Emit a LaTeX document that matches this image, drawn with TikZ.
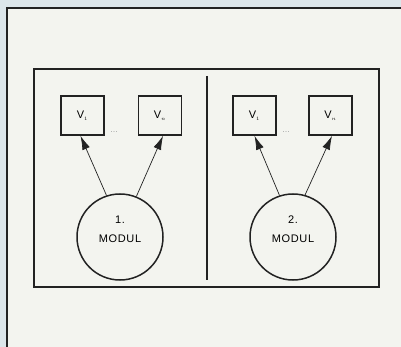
\documentclass[tikz,border=0pt]{standalone}
\usepackage{fontspec}
\setmainfont{Liberation Sans}
\usetikzlibrary{arrows.meta}
\definecolor{scanblue}{HTML}{DCE6EA}
\definecolor{paper}{HTML}{F3F4EF}
\definecolor{ink}{HTML}{222222}
\tikzset{
  frame/.style={draw=ink, line width=1.7pt},
  vbox/.style={draw=ink, line width=1.6pt, minimum width=43pt, minimum height=39pt, inner sep=0pt, font=\fontsize{11}{12}\selectfont},
  modul/.style={draw=ink, line width=1.5pt, circle, minimum size=86pt, inner sep=0pt},
  modtext/.style={align=center, inner sep=0pt, font=\fontsize{11}{19}\selectfont\addfontfeature{LetterSpace=6}},
  link/.style={draw=ink, line width=0.7pt, -{Latex[length=14pt,width=8pt]}},
  dots/.style={text=gray!70, font=\fontsize{9}{10}\selectfont}
}
\begin{document}
\begin{tikzpicture}[x=1pt,y=-1pt]
\useasboundingbox (0,0) rectangle (401,347);
\fill[scanblue] (0,0) rectangle (401,347);
\fill[paper] (7,8) rectangle (401,347);
\draw[frame] (7,347) -- (7,8) -- (401,8);
\draw[frame] (34,69) rectangle (379,287);
\coordinate (divtop) at (207,76);
\coordinate (divbot) at (207,280);
\draw[ink, line width=1.3pt] (divtop) -- (divbot);
% left module
\node[vbox] (a1) at (82.5,115.5) {V$_{\scriptscriptstyle 1}$};
\node[vbox] (an) at (160,115.5) {V$_{\scriptscriptstyle n}$};
\node[dots] (ad) at (114,132) {...};
\node[modul] (am) at (120,237) {};
\node[modtext] (amt) at (120,229) {1.\\MODUL};
\draw[link] (am.108) -- ([xshift=-2pt]a1.south);
\draw[link] (am.68) -- ([xshift=3pt]an.south);
% right module
\node[vbox] (b1) at (254.5,115.5) {V$_{\scriptscriptstyle 1}$};
\node[vbox] (bn) at (330.5,115.5) {V$_{\scriptscriptstyle n}$};
\node[dots] (bd) at (286,132) {...};
\node[modul] (bm) at (293,237) {};
\node[modtext] (bmt) at (293,229) {2.\\MODUL};
\draw[link] (bm.108) -- (b1.south);
\draw[link] (bm.74) -- ([xshift=1.5pt]bn.south);
\end{tikzpicture}
\end{document}
